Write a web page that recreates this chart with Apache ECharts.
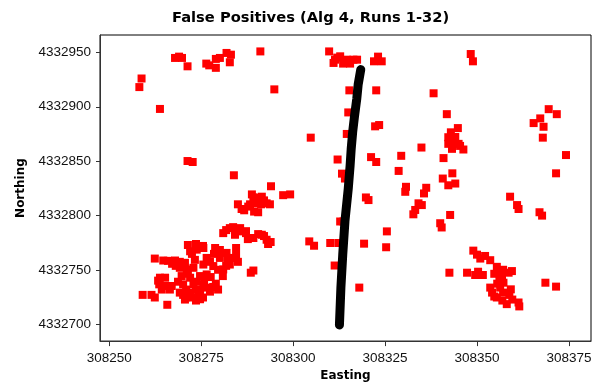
<!DOCTYPE html>
<html>
<head>
<meta charset="utf-8">
<script src="https://cdn.jsdelivr.net/npm/echarts@6/dist/echarts.min.js"></script>
<style>html,body{margin:0;padding:0;background:#fff}#c{width:599px;height:387px}</style>
</head>
<body>
<div id="c"></div>
<script>
const titleText = 'False Positives (Alg 4, Runs 1-32)';
const xName = 'Easting';
const yName = 'Northing';
const xTicks = [308250, 308275, 308300, 308325, 308350, 308375];
const yTicks = [4332700, 4332750, 4332800, 4332850, 4332900, 4332950];

// red squares: false positives
const redEasting = [
 308258.8,308258.2,308263.8,308267.9,308269.0,308269.8,308271.3,308276.4,308277.2,308279.0,
 308279.0,308280.1,308281.9,308283.1,308282.8,308291.1,308294.9,308271.3,308272.7,308283.9,
 308294.0,308309.8,308311.4,308312.8,308314.6,308316.4,308311.0,308322.0,308324.1,308348.3,
 308348.9,308315.3,308322.6,308338.2,308315.0,308341.8,308322.3,308323.4,308304.8,308314.6,
 308344.8,308342.9,308342.2,308343.6,308345.0,308343.2,308346.3,308334.9,308329.4,308340.9,
 308312.1,308321.2,308322.6,308313.3,308314.1,308328.7,308343.3,308340.7,308342.2,308344.1,
 308330.7,308330.5,308336.2,308335.6,308359.0,308319.8,308369.5,308371.7,308365.4,308367.2,
 308368.1,308367.9,308374.2,308371.5,308320.5,308334.1,308335.0,308333.2,308332.7,308360.9,
 308361.3,308367.0,308367.7,308342.7,308340.0,308340.4,308312.8,308313.7,308325.5,308304.4,
 308305.7,308310.1,308312.3,308319.3,308325.3,308349.0,308350.0,308350.9,308353.6,308311.3,
 308355.4,308355.9,308342.5,308347.3,308349.5,308351.6,308359.5,308358.6,308356.8,308356.1,
 308357.2,308368.6,308371.5,308353.6,308354.1,308356.3,308359.2,308358.8,308355.4,308358.1,
 308361.3,308361.5,308318.0,308290.1,308291.5,308289.2,308297.3,308299.2,308286.0,308287.8,
 308289.4,308290.1,308292.8,308291.3,308282.8,308281.0,308285.6,308284.2,308287.2,308289.2,
 308291.5,308292.8,308293.9,308289.2,308288.5,308262.4,308264.7,308267.9,308273.8,308272.0,
 308275.6,308278.8,308281.9,308283.7,308280.1,308276.5,308278.3,308281.0,308282.8,308275.6,
 308269.2,308271.1,308272.9,308269.7,308272.0,308274.7,308276.5,308277.6,308280.9,308263.8,
 308263.6,308265.6,308267.0,308270.1,308272.9,308275.6,308278.3,308269.2,308272.0,308274.2,
 308270.1,308274.7,308276.5,308259.1,308261.5,308262.4,308265.8,308272.9,308274.7,308270.9,
 308280.1,308282.3,308284.5,308278.5,308281.8,308279.6,308284.5,308277.4,308285.0,308271.4,
 308273.6,308275.5,308272.5,308268.1,308270.6,308273.3,308271.4,308273.6,308268.7,308270.9,
 308273.6,308275.8,308270.6,308273.6,308275.5,308263.3,308265.2,308266.5,308264.3,308266.0,
 308267.1,308269.2,308279.0,308279.6,308277.4,308281.8,308283.7,308285.6,308287.2,308290.5,
 308292.1,308293.2,308287.7,308285.0,308286.7,308288.3,308292.1,308293.7,308288.8,308290.5,
 308352.2,308350.3,308354.7,308357.1,308355.5,308357.1,308356.9,308359.6,308354.7,308344.1,
 308345.4,308342.2,308312.0,308313.6,308315.5,308317.4,308323.1
];
const redNorthing = [
 4332926.0,4332918.1,4332898.0,4332944.9,4332946.1,4332944.9,4332937.2,4332939.7,4332938.1,4332935.8,
 4332944.0,4332944.9,4332949.5,4332947.9,4332940.9,4332950.9,4332916.0,4332850.1,4332849.2,4332837.0,
 4332826.9,4332950.9,4332943.3,4332946.4,4332943.3,4332943.3,4332940.3,4332941.8,4332941.8,4332948.5,
 4332941.8,4332915.1,4332915.1,4332912.4,4332894.8,4332893.2,4332882.0,4332883.2,4332871.6,4332875.0,
 4332880.4,4332876.5,4332872.0,4332867.4,4332865.9,4332861.3,4332860.7,4332862.5,4332854.9,4332852.8,
 4332851.5,4332853.7,4332849.2,4332838.5,4332834.0,4332841.0,4332838.8,4332834.0,4332827.8,4332829.4,
 4332826.4,4332821.8,4332825.5,4332820.3,4332817.3,4332816.6,4332897.8,4332893.2,4332885.0,4332889.3,
 4332881.6,4332871.6,4332855.6,4332838.8,4332814.2,4332811.2,4332809.6,4332805.1,4332801.1,4332809.6,
 4332806.0,4332803.0,4332799.9,4332800.5,4332792.9,4332789.0,4332794.5,4332794.5,4332785.4,4332776.2,
 4332772.2,4332774.7,4332774.7,4332774.1,4332770.8,4332767.7,4332764.0,4332760.4,4332758.9,4332754.0,
 4332752.8,4332749.2,4332747.4,4332747.4,4332745.3,4332745.3,4332748.9,4332747.4,4332744.3,4332739.8,
 4332738.2,4332738.2,4332734.6,4332733.7,4332729.1,4332733.7,4332732.1,4332727.0,4332724.6,4332718.5,
 4332720.0,4332716.4,4332733.7,4332816.4,4332817.3,4332816.6,4332818.7,4332819.4,4332806.0,4332808.2,
 4332803.6,4332811.2,4332811.2,4332810.3,4332788.4,4332783.8,4332785.4,4332782.3,4332785.6,4332779.3,
 4332782.3,4332777.7,4332775.6,4332749.4,4332747.4,4332760.4,4332758.6,4332758.6,4332768.6,4332767.1,
 4332770.1,4332770.1,4332765.6,4332761.0,4332761.0,4332761.0,4332753.5,4332750.4,4332754.9,4332754.9,
 4332751.9,4332750.4,4332751.9,4332744.3,4332742.8,4332744.3,4332745.8,4332743.4,4332744.3,4332742.8,
 4332736.7,4332735.2,4332735.2,4332736.7,4332736.7,4332736.7,4332734.3,4332729.1,4332729.1,4332726.1,
 4332727.0,4332730.7,4332733.7,4332727.0,4332727.0,4332724.6,4332717.9,4332724.6,4332723.0,4332724.6,
 4332768.3,4332759.2,4332762.8,4332764.7,4332753.7,4332750.1,4332770.1,4332757.4,4332757.4,4332772.9,
 4332773.8,4332772.0,4332764.7,4332753.7,4332756.5,4332759.2,4332746.4,4332739.1,4332739.1,4332731.9,
 4332731.9,4332739.1,4332722.7,4332721.8,4332724.6,4332740.1,4332742.8,4332731.9,4332731.9,4332758.3,
 4332755.6,4332757.4,4332737.3,4332731.9,4332730.0,4332786.6,4332789.3,4332788.4,4332783.8,4332782.9,
 4332781.1,4332773.8,4332778.3,4332810.3,4332804.8,4332810.3,4332813.9,4332810.3,4332819.4,4332803.0,
 4332762.8,4332748.3,4332746.4,4332750.1,4332737.3,4332729.1,4332721.8,4332722.7,4332725.5,4332872.2,
 4332864.0,4332865.9,4332945.2,4332939.7,4332939.7,4332943.3,4332946.1
];

// black track (read along the dense band of black circles)
const trackEasting = [308318.4,308317.7,308317.3,308316.7,308316.2,308315.8,308315.5,308315.0,308314.1,308313.5,308313.0,308312.6];
const trackNorthing = [4332934.2,4332920.6,4332906.9,4332891.4,4332876.8,4332861.3,4332845.8,4332824.8,4332794.8,4332764.0,4332733.7,4332699.3];

const redData = redEasting.map((e, i) => [e, redNorthing[i]]);
const trackData = trackEasting.map((e, i) => [e, trackNorthing[i]]);

const FONT = 'Liberation Sans';
const BOLD = 'DejaVu Sans';
const chart = echarts.init(document.getElementById('c'), null, {renderer: 'canvas'});
chart.setOption({
  animation: false,
  backgroundColor: '#ffffff',
  title: {
    text: titleText, left: 167, top: 6,
    textStyle: {fontFamily: BOLD, fontSize: 14.7, fontWeight: 'bold', color: '#000'}
  },
  grid: {left: 100, top: 35, right: 8, bottom: 43, show: true, borderColor: '#000', borderWidth: 1},
  xAxis: {
    type: 'value', min: 308247.5, max: 308381,
    name: xName, nameLocation: 'middle', nameGap: 27,
    nameTextStyle: {fontFamily: BOLD, fontSize: 12, fontWeight: 'bold', color: '#000'},
    axisLine: {show: true, onZero: false, lineStyle: {color: '#333', width: 1}},
    axisTick: {show: true, length: 5, customValues: xTicks, lineStyle: {color: '#333'}},
    axisLabel: {customValues: xTicks, margin: 10, fontFamily: FONT, fontSize: 13.5, color: '#111', formatter: v => String(v)},
    splitLine: {show: false}
  },
  yAxis: {
    type: 'value', min: 4332684.5, max: 4332966,
    name: yName, nameLocation: 'middle', nameGap: 73,
    nameTextStyle: {fontFamily: BOLD, fontSize: 12, fontWeight: 'bold', color: '#000'},
    axisLine: {show: true, onZero: false, lineStyle: {color: '#333', width: 1}},
    axisTick: {show: true, length: 4, customValues: yTicks, lineStyle: {color: '#333'}},
    axisLabel: {customValues: yTicks, margin: 9, fontFamily: FONT, fontSize: 13.5, color: '#111', formatter: v => String(v)},
    splitLine: {show: false}
  },
  series: [
    {type: 'scatter', data: redData, symbol: 'rect', symbolSize: 8, itemStyle: {color: '#ff0000', opacity: 1}, z: 2},
    {type: 'line', data: trackData, symbol: 'none', smooth: false,
     lineStyle: {color: '#000', width: 9, cap: 'round', join: 'round'}, z: 3}
  ]
});
</script>
</body>
</html>
